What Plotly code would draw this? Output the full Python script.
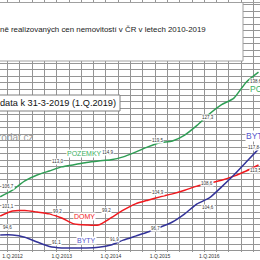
import plotly.graph_objects as go

quarters = ["4.Q.2011", "1.Q.2012", "2.Q.2012", "3.Q.2012", "4.Q.2012",
            "1.Q.2013", "2.Q.2013", "3.Q.2013", "4.Q.2013",
            "1.Q.2014", "2.Q.2014", "3.Q.2014", "4.Q.2014",
            "1.Q.2015", "2.Q.2015", "3.Q.2015", "4.Q.2015",
            "1.Q.2016", "2.Q.2016", "3.Q.2016", "4.Q.2016",
            "1.Q.2017"]
pozemky = [104.9, 106.7, 109.2, 110.8, 111.9, 113.0, 113.6, 114.2, 114.6, 114.9, 115.7,
           117.0, 118.4, 119.5, 120.0, 121.6, 124.2, 127.3, 129.8, 131.6, 135.9, 138.6]
domy = [99.7, 101.1, 101.2, 100.8, 100.3, 99.2, 97.6, 97.3, 97.3, 99.2, 101.3,
        103.0, 104.0, 104.9, 105.7, 106.7, 107.8, 108.6, 109.4, 110.5, 111.9, 113.5]
byty = [94.6, 94.6, 94.0, 92.7, 91.5, 91.1, 91.1, 91.1, 91.3, 91.9, 93.2,
        94.3, 95.4, 96.7, 98.1, 100.3, 103.0, 104.6, 107.6, 110.8, 114.3, 117.8]

title_text = "ně realizovaných cen nemovitostí v ČR v letech 2010-2019"
date_text = "data k 31-3-2019 (1.Q.2019)"
watermark = "rodat.cz"

C_POZ, C_DOM, C_BYT = "#2f9e55", "#f0191e", "#333399"
W, H, B = 260, 260, 8
PH = H - B
GRID = "#959595"

x = list(range(len(quarters)))
tickvals = [i for i, s in enumerate(quarters) if s.startswith("1.Q")]
ticktext = [quarters[i] for i in tickvals]

fig = go.Figure()
for name, vals, col in [("POZEMKY", pozemky, C_POZ), ("DOMY", domy, C_DOM), ("BYTY", byty, C_BYT)]:
    fig.add_trace(go.Scatter(x=x, y=vals, mode="lines", name=name,
                             line=dict(color=col, width=1.5, shape="spline", smoothing=0.6),
                             hoverinfo="skip"))

# data labels at 1.Q points (offsets in px)
offs = {
    "p": [(-5, 4), (-4, 5), (-3, 7), (-3, 2), (-1, -4), (-3, -9)],
    "d": [(-5, 4), (-4, 6), (-4, 7), (-2, 4), (-2, 0), (-3, -5)],
    "b": [(-5, 7), (-5, 5), (4, 5), (-5, -1), (-1, -10), (-5, 2)],
}
for key, vals in [("p", pozemky), ("d", domy), ("b", byty)]:
    for (dx, dy), i in zip(offs[key], tickvals):
        fig.add_annotation(x=i, y=vals[i], text=f"{vals[i]:.1f}".replace(".", ","),
                           showarrow=False, xshift=dx, yshift=dy,
                           font=dict(size=4.5, color="#333", family="Liberation Sans"),
                           bgcolor="white", borderpad=0)

def px(xp):
    return xp / W

def py(yp):
    return (PH - yp) / PH

# title box
fig.add_shape(type="rect", xref="paper", yref="paper", x0=-0.05, x1=px(243), y0=py(61), y1=py(2.5),
              fillcolor="white", line=dict(color="#a0a0a0", width=1), layer="above")
fig.add_shape(type="line", xref="paper", yref="paper", x0=-0.05, x1=1.05, y0=py(2.5), y1=py(2.5),
              line=dict(color="#a0a0a0", width=1), layer="above")
fig.add_annotation(xref="paper", yref="paper", x=px(-2), y=py(29), xanchor="left", yanchor="middle",
                   text=title_text, showarrow=False,
                   font=dict(size=7.9, color="#222", family="Liberation Sans"))

# data box
fig.add_shape(type="rect", xref="paper", yref="paper", x0=-0.05, x1=px(120), y0=py(111), y1=py(95),
              fillcolor="white", line=dict(color="#808080", width=1), layer="above")
fig.add_annotation(xref="paper", yref="paper", x=px(118), y=py(103), xanchor="right", yanchor="middle",
                   text=date_text, showarrow=False,
                   font=dict(size=9.2, color="#111", family="Liberation Sans"))

# watermark
fig.add_annotation(xref="paper", yref="paper", x=px(36), y=py(137), xanchor="right", yanchor="middle",
                   text=watermark, showarrow=False,
                   font=dict(size=10, color="#9a9a9a", family="Liberation Sans"))

# series name labels
for txt, xx, yy, col, sz, anchor in [("POZEMKY", 84, 153, "#3cb061", 7, "center"),
                                     ("DOMY", 84, 216, C_DOM, 7, "center"),
                                     ("BYTY", 86, 240, "#5555cc", 7, "center"),
                                     ("POZEMKY", 249, 89, "#3cb061", 8.5, "left"),
                                     ("BYTY", 245, 136, "#5555cc", 8.5, "left")]:
    fig.add_annotation(xref="paper", yref="paper", x=px(xx), y=py(yy), xanchor=anchor, yanchor="middle",
                       text=txt, showarrow=False, bgcolor="white", borderpad=0,
                       font=dict(size=sz, color=col, family="Liberation Sans"))

fig.update_layout(
    width=W, height=H, margin=dict(l=0, r=0, t=0, b=B),
    paper_bgcolor="white", plot_bgcolor="white", showlegend=False,
    xaxis=dict(range=[-0.016, 21.122], tickvals=tickvals, ticktext=ticktext, showgrid=False,
               zeroline=False, ticks="", tickfont=dict(size=5, color="#333", family="Liberation Sans"),
               minor=dict(tick0=0.6, dtick=1, showgrid=True, gridcolor=GRID, gridwidth=1)),
    yaxis=dict(range=[90.0, 158.1], showticklabels=False, zeroline=False, ticks="",
               dtick=1.75, tick0=90.3, showgrid=True, gridcolor=GRID, gridwidth=1),
)

fig.write_html("out.html")
